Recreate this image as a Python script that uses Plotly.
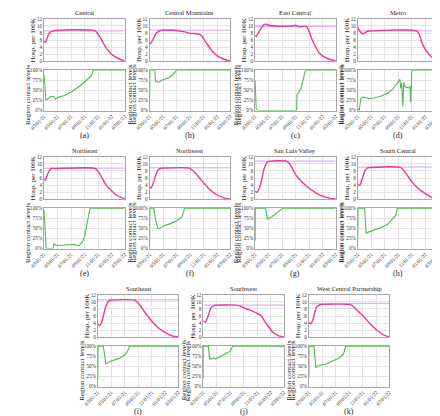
import plotly.graph_objects as go

# ---------------- data ----------------
regions = ["Central", "Central Mountains", "East Central", "Metro", "Northeast", "Northwest",
           "San Luis Valley", "South Central", "Southeast", "Southwest", "West Central Partnership"]
panel_letters = ["(a)", "(b)", "(c)", "(d)", "(e)", "(f)", "(g)", "(h)", "(i)", "(j)", "(k)"]
capacities = [8.6, 8.8, 9.9, 8.6, 8.8, 8.9, 10.8, 9.1, 10.6, 9.1, 9.6]

x_tick_dates = ["2021-03-01", "2021-05-01", "2021-07-01", "2021-09-01", "2021-11-01", "2022-01-01", "2022-03-01"]
hosp_ticks = [0, 2, 4, 6, 8, 10, 12]
contact_ticks = [0, 25, 50, 75, 100]
contact_tick_labels = ["0%", "25%", "50%", "75%", "100%"]

# Central
central_hosp_x = ["2021-03-01", "2021-03-06", "2021-03-15", "2021-03-25", "2021-04-10", "2021-10-18", "2021-11-10", "2021-12-07", "2022-01-01", "2022-01-22", "2022-02-10", "2022-03-01"]
central_hosp_y = [5.7, 5.3, 6.5, 8.0, 8.6, 8.6, 6.8, 3.8, 2.0, 1.1, 0.5, 0.1]
central_contact_x = ["2021-03-01", "2021-03-04", "2021-03-09", "2021-03-20", "2021-04-01", "2021-04-15", "2021-04-22", "2021-05-01", "2021-06-01", "2021-07-01", "2021-08-13", "2021-09-25", "2021-10-05", "2021-10-08", "2022-03-01"]
central_contact_y = [90, 60, 25, 30, 35, 34, 28, 32, 37, 46, 62, 83, 90, 100, 100]

# Central Mountains
cmount_hosp_x = ["2021-03-01", "2021-03-06", "2021-03-15", "2021-04-01", "2021-04-20", "2021-06-15", "2021-08-01", "2021-09-01", "2021-10-01", "2021-10-20", "2021-11-15", "2021-12-15", "2022-01-15", "2022-02-15", "2022-03-01"]
cmount_hosp_y = [5.3, 5.0, 6.0, 8.0, 8.7, 8.8, 8.4, 7.9, 7.8, 7.4, 5.0, 2.5, 1.0, 0.3, 0.1]
cmount_contact_x = ["2021-03-01", "2021-03-02", "2021-03-25", "2021-03-28", "2021-04-15", "2021-04-25", "2021-05-15", "2021-06-01", "2021-06-20", "2021-07-01", "2022-03-01"]
cmount_contact_y = [20, 100, 100, 72, 70, 75, 79, 83, 92, 100, 100]

# East Central
ecent_hosp_x = ["2021-03-01", "2021-03-06", "2021-03-20", "2021-04-10", "2021-04-20", "2021-05-01", "2021-06-01", "2021-08-15", "2021-09-01", "2021-09-15", "2021-10-20", "2021-11-15", "2021-12-15", "2022-01-15", "2022-02-15", "2022-03-01"]
ecent_hosp_y = [7.3, 7.0, 8.5, 10.4, 10.5, 10.2, 10.0, 10.0, 10.2, 9.8, 9.8, 6.0, 2.5, 1.0, 0.3, 0.1]
ecent_contact_x = ["2021-03-01", "2021-03-03", "2021-03-06", "2021-03-15", "2021-09-05", "2021-09-07", "2021-09-15", "2021-09-25", "2021-10-05", "2021-10-15", "2022-03-01"]
ecent_contact_y = [75, 40, 5, 0, 0, 40, 45, 55, 75, 100, 100]

# Metro
metro_hosp_x = ["2021-03-01", "2021-03-10", "2021-03-25", "2021-04-15", "2021-05-01", "2021-11-23", "2021-12-05", "2021-12-20", "2022-01-18", "2022-02-10", "2022-03-01"]
metro_hosp_y = [9.8, 8.5, 7.8, 8.5, 8.6, 8.6, 7.5, 4.7, 2.0, 0.7, 0.1]
metro_contact_x = ["2021-03-01", "2021-03-08", "2021-03-15", "2021-03-25", "2021-04-20", "2021-05-15", "2021-06-15", "2021-07-15", "2021-08-10", "2021-09-01", "2021-09-08", "2021-09-12", "2021-09-16", "2021-09-21", "2021-09-26", "2021-10-02", "2021-10-20", "2021-10-24", "2021-10-27", "2021-11-01", "2022-03-01"]
metro_contact_y = [5, 0, 30, 33, 30, 31, 36, 43, 55, 70, 77, 55, 68, 10, 70, 58, 56, 60, 20, 100, 100]

# Northeast
neast_hosp_x = ["2021-03-01", "2021-03-06", "2021-03-20", "2021-04-05", "2021-04-15", "2021-10-20", "2021-11-10", "2021-12-07", "2022-01-22", "2022-03-01"]
neast_hosp_y = [5.8, 5.4, 7.5, 8.8, 8.7, 8.7, 7.0, 4.0, 1.2, 0.1]
neast_contact_x = ["2021-03-01", "2021-03-05", "2021-03-10", "2021-03-15", "2021-04-10", "2021-04-16", "2021-04-22", "2021-05-15", "2021-06-15", "2021-07-15", "2021-08-05", "2021-08-20", "2021-09-01", "2021-09-12", "2021-09-25", "2022-03-01"]
neast_contact_y = [95, 40, 2, 0, 0, 13, 8, 8, 9, 10, 7, 15, 30, 65, 100, 100]

# Northwest
nwest_hosp_x = ["2021-03-01", "2021-03-08", "2021-03-20", "2021-04-05", "2021-04-15", "2021-05-01", "2021-08-28", "2021-09-15", "2021-10-10", "2021-11-01", "2021-12-01", "2022-01-01", "2022-02-01", "2022-03-01"]
nwest_hosp_y = [3.5, 3.2, 5.0, 8.0, 8.7, 8.8, 8.8, 8.0, 6.3, 4.6, 2.6, 1.2, 0.4, 0.05]
nwest_contact_x = ["2021-03-01", "2021-03-02", "2021-03-20", "2021-03-28", "2021-04-08", "2021-04-15", "2021-05-01", "2021-06-01", "2021-07-01", "2021-07-25", "2021-08-07", "2022-03-01"]
nwest_contact_y = [20, 100, 100, 70, 50, 49, 56, 61, 68, 78, 100, 100]

# San Luis Valley
slv_hosp_x = ["2021-03-01", "2021-03-10", "2021-03-25", "2021-04-10", "2021-04-25", "2021-05-10", "2021-07-20", "2021-08-05", "2021-09-01", "2021-10-01", "2021-11-01", "2021-12-01", "2022-01-01", "2022-02-01", "2022-03-01"]
slv_hosp_y = [2.3, 2.0, 4.0, 8.5, 10.5, 10.8, 10.8, 10.0, 7.0, 4.8, 3.1, 1.8, 0.9, 0.3, 0.05]
slv_contact_x = ["2021-03-01", "2021-03-02", "2021-04-18", "2021-04-25", "2021-05-15", "2021-06-05", "2021-06-25", "2021-07-05", "2022-03-01"]
slv_contact_y = [20, 100, 100, 73, 78, 87, 95, 100, 100]

# South Central
scent_hosp_x = ["2021-03-01", "2021-03-10", "2021-03-20", "2021-04-05", "2021-04-15", "2021-05-01", "2021-09-10", "2021-09-25", "2021-11-01", "2021-12-01", "2022-01-01", "2022-02-01", "2022-03-01"]
scent_hosp_y = [4.3, 3.9, 5.5, 8.3, 8.9, 9.0, 9.0, 8.2, 5.0, 3.0, 1.6, 0.5, 0.05]
scent_contact_x = ["2021-03-01", "2021-03-02", "2021-04-01", "2021-04-08", "2021-04-15", "2021-05-15", "2021-06-15", "2021-07-15", "2021-08-10", "2021-08-20", "2021-08-28", "2022-03-01"]
scent_contact_y = [20, 100, 100, 38, 40, 46, 52, 60, 75, 82, 100, 100]

# Southeast
seast_hosp_x = ["2021-03-01", "2021-03-10", "2021-03-20", "2021-04-05", "2021-04-20", "2021-05-01", "2021-08-15", "2021-09-01", "2021-10-01", "2021-11-01", "2021-12-01", "2022-01-01", "2022-02-01", "2022-03-01"]
seast_hosp_y = [3.7, 3.3, 4.5, 8.5, 10.3, 10.5, 10.5, 9.6, 7.0, 4.5, 2.6, 1.3, 0.4, 0.05]
seast_contact_x = ["2021-03-01", "2021-03-02", "2021-03-26", "2021-04-06", "2021-04-15", "2021-05-01", "2021-06-01", "2021-07-01", "2021-07-15", "2021-07-22", "2022-03-01"]
seast_contact_y = [20, 100, 100, 57, 58, 63, 69, 78, 88, 100, 100]

# Southwest
swest_hosp_x = ["2021-03-01", "2021-03-10", "2021-03-20", "2021-04-05", "2021-04-20", "2021-05-01", "2021-07-25", "2021-08-15", "2021-09-15", "2021-10-10", "2021-11-15", "2021-12-10", "2022-01-10", "2022-02-10", "2022-03-01"]
swest_hosp_y = [4.7, 4.2, 5.5, 8.3, 9.0, 9.1, 9.1, 8.8, 8.0, 7.4, 6.2, 4.0, 1.4, 0.3, 0.05]
swest_contact_x = ["2021-03-01", "2021-03-02", "2021-03-24", "2021-03-30", "2021-04-10", "2021-04-18", "2021-04-25", "2021-05-15", "2021-06-10", "2021-07-01", "2021-07-12", "2022-03-01"]
swest_contact_y = [20, 100, 100, 68, 69, 71, 68, 74, 80, 87, 100, 100]

# West Central Partnership
wcp_hosp_x = ["2021-03-01", "2021-03-10", "2021-03-20", "2021-04-05", "2021-04-20", "2021-05-01", "2021-09-01", "2021-09-15", "2021-10-01", "2021-11-01", "2021-12-01", "2022-01-01", "2022-02-01", "2022-03-01"]
wcp_hosp_y = [4.2, 3.8, 5.0, 8.5, 9.2, 9.3, 9.3, 8.9, 7.9, 6.1, 4.0, 2.1, 0.7, 0.05]
wcp_contact_x = ["2021-03-01", "2021-03-02", "2021-03-24", "2021-04-02", "2021-04-10", "2021-04-20", "2021-05-15", "2021-06-15", "2021-07-15", "2021-08-05", "2021-08-15", "2022-03-01"]
wcp_contact_y = [20, 100, 100, 47, 50, 53, 55, 62, 70, 80, 100, 100]

hosp_series = [
    (central_hosp_x, central_hosp_y), (cmount_hosp_x, cmount_hosp_y), (ecent_hosp_x, ecent_hosp_y),
    (metro_hosp_x, metro_hosp_y), (neast_hosp_x, neast_hosp_y), (nwest_hosp_x, nwest_hosp_y),
    (slv_hosp_x, slv_hosp_y), (scent_hosp_x, scent_hosp_y), (seast_hosp_x, seast_hosp_y),
    (swest_hosp_x, swest_hosp_y), (wcp_hosp_x, wcp_hosp_y)]
contact_series = [
    (central_contact_x, central_contact_y), (cmount_contact_x, cmount_contact_y), (ecent_contact_x, ecent_contact_y),
    (metro_contact_x, metro_contact_y), (neast_contact_x, neast_contact_y), (nwest_contact_x, nwest_contact_y),
    (slv_contact_x, slv_contact_y), (scent_contact_x, scent_contact_y), (seast_contact_x, seast_contact_y),
    (swest_contact_x, swest_contact_y), (wcp_contact_x, wcp_contact_y)]

# panels whose right-hand duplicate axis label is visible in the reference
show_right_label = [True, True, True, False, True, True, True, False, True, True, False]

# ---------------- layout geometry (pixels) ----------------
W, H = 440, 416
PW = 84
lefts = [22, 132, 242, 349, 22, 132, 242, 349, 78, 188, 298]
row_of = [0, 0, 0, 0, 1, 1, 1, 1, 2, 2, 2]
ROW_STEP = 140
TOP_Y = (8, 51)
BOT_Y = (60, 101)
LABEL_Y = 126

PINK = "#F2359C"
CAP = "#D7A3E6"
GREEN = "#52BA52"
GRID = "#E3E3E3"
FRAME = "#A8A8A8"
FONT = "Liberation Serif"
TXT = "#222222"

def px(x):
    return x / W

def py(y):
    return 1 - y / H

fig = go.Figure()
layout = dict(
    width=W, height=H, margin=dict(l=0, r=0, t=0, b=0),
    paper_bgcolor="white", plot_bgcolor="white", showlegend=False,
    font=dict(family=FONT, size=6, color=TXT),
)
annotations = []
x_range = ["2021-03-01", "2022-03-01"]
tick_font = dict(size=5.2, family=FONT, color="#333333")

for i, name in enumerate(regions):
    r = row_of[i]
    off = r * ROW_STEP
    left = lefts[i]
    xdom = [px(left), px(left + PW)]
    top_dom = [py(TOP_Y[1] + off), py(TOP_Y[0] + off)]
    bot_dom = [py(BOT_Y[1] + off), py(BOT_Y[0] + off)]
    a_top = 2 * i + 1
    a_bot = 2 * i + 2
    sfx_t = "" if a_top == 1 else str(a_top)
    sfx_b = str(a_bot)

    common_x = dict(range=x_range, tickvals=x_tick_dates, showgrid=True, gridcolor=GRID, gridwidth=0.6,
                    showline=True, mirror=True, linecolor=FRAME, linewidth=0.7, ticks="",
                    zeroline=False, type="date")
    layout["xaxis" + sfx_t] = dict(common_x, domain=xdom, anchor="y" + sfx_t, showticklabels=False)
    layout["xaxis" + sfx_b] = dict(common_x, domain=xdom, anchor="y" + sfx_b, showticklabels=True,
                                   tickformat="%m/%d/%y", tickangle=-45, tickfont=tick_font)
    layout["yaxis" + sfx_t] = dict(domain=top_dom, anchor="x" + sfx_t, range=[0, 12], tickvals=hosp_ticks,
                                   showgrid=True, gridcolor=GRID, gridwidth=0.6, showline=True, mirror=True,
                                   linecolor=FRAME, linewidth=0.7, ticks="", zeroline=False, tickfont=tick_font)
    layout["yaxis" + sfx_b] = dict(domain=bot_dom, anchor="x" + sfx_b, range=[0, 100], tickvals=contact_ticks,
                                   ticktext=contact_tick_labels,
                                   showgrid=True, gridcolor=GRID, gridwidth=0.6, showline=True, mirror=True,
                                   linecolor=FRAME, linewidth=0.7, ticks="", zeroline=False, tickfont=tick_font)

    hx, hy = hosp_series[i]
    cx, cy = contact_series[i]
    fig.add_trace(go.Scatter(x=x_range, y=[capacities[i], capacities[i]], mode="lines",
                             line=dict(color=CAP, width=1), xaxis="x" + sfx_t, yaxis="y" + sfx_t))
    fig.add_trace(go.Scatter(x=hx, y=hy, mode="lines", line=dict(color=PINK, width=1.4, shape="spline", smoothing=0.6),
                             xaxis="x" + sfx_t, yaxis="y" + sfx_t))
    fig.add_trace(go.Scatter(x=cx, y=cy, mode="lines", line=dict(color=GREEN, width=1.1),
                             xaxis="x" + sfx_b, yaxis="y" + sfx_b))

    cxm = px(left + PW / 2)
    annotations.append(dict(text=name, x=cxm, y=py(TOP_Y[0] + off - 1), xref="paper", yref="paper",
                            xanchor="center", yanchor="bottom", showarrow=False,
                            font=dict(size=6.5, family=FONT, color=TXT)))
    annotations.append(dict(text="Hosp. per 100K", x=px(left - 11), y=py((TOP_Y[0] + TOP_Y[1]) / 2 + off),
                            xref="paper", yref="paper", xanchor="center", yanchor="middle", showarrow=False,
                            textangle=-90, font=dict(size=7, family=FONT, color=TXT)))
    annotations.append(dict(text="Region contact levels", x=px(left - 16), y=py((BOT_Y[0] + BOT_Y[1]) / 2 + off + 4),
                            xref="paper", yref="paper", xanchor="center", yanchor="middle", showarrow=False,
                            textangle=-90, font=dict(size=7, family=FONT, color=TXT)))
    if show_right_label[i]:
        annotations.append(dict(text="Region contact levels", x=px(left + PW + 6), y=py((BOT_Y[0] + BOT_Y[1]) / 2 + off + 4),
                                xref="paper", yref="paper", xanchor="center", yanchor="middle", showarrow=False,
                                textangle=-90, font=dict(size=7, family=FONT, color=TXT)))
    annotations.append(dict(text=panel_letters[i], x=cxm, y=py(LABEL_Y + off), xref="paper", yref="paper",
                            xanchor="center", yanchor="middle", showarrow=False,
                            font=dict(size=8, family=FONT, color=TXT)))

layout["annotations"] = annotations
fig.update_layout(**layout)
fig.write_html("out.html")
